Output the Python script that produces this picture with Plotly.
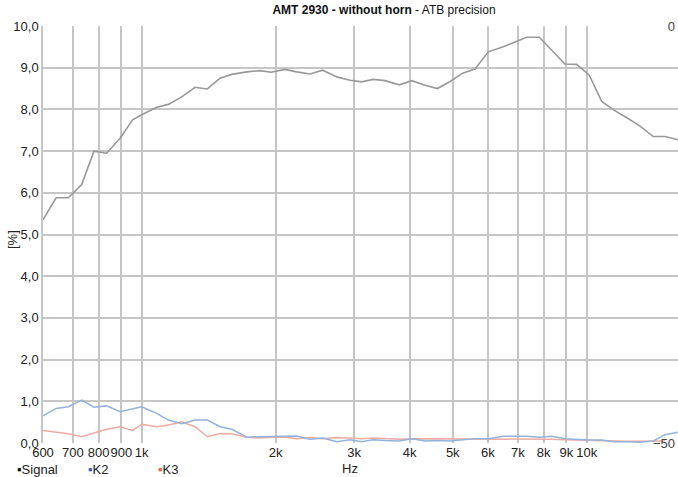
import plotly.graph_objects as go
import math

freq_hz = [600, 642, 684, 733, 781, 834, 894, 954, 1000, 1081, 1148, 1230, 1318, 1404, 1500,
           1594, 1722, 1844, 1952, 2099, 2230, 2389, 2551, 2743, 2939, 3120, 3312, 3521, 3792,
           4045, 4333, 4618, 4931, 5263, 5610, 6010, 6494, 7048, 7328, 7826, 8340, 8933, 9495,
           10135, 10810, 11485, 12310, 13180, 14110, 15000, 16070]

signal_db = [-23.25, -20.6, -20.6, -19.0, -15.0, -15.25, -13.45, -11.25, -10.65, -9.75, -9.4,
             -8.5, -7.35, -7.55, -6.25, -5.8, -5.5, -5.35, -5.55, -5.2, -5.5, -5.75, -5.3, -6.1,
             -6.5, -6.7, -6.4, -6.55, -7.05, -6.55, -7.1, -7.5, -6.65, -5.65, -5.15, -3.1, -2.5,
             -1.75, -1.35, -1.35, -2.95, -4.55, -4.6, -5.9, -9.05, -10.05, -11.0, -12.0, -13.25,
             -13.25, -13.65]

k2_pct = [0.65, 0.83, 0.87, 1.03, 0.86, 0.89, 0.75, 0.81, 0.87, 0.71, 0.55, 0.46, 0.55, 0.55,
          0.39, 0.33, 0.14, 0.15, 0.16, 0.17, 0.17, 0.09, 0.12, 0.03, 0.08, 0.03, 0.08, 0.06,
          0.05, 0.10, 0.05, 0.06, 0.05, 0.08, 0.10, 0.10, 0.16, 0.16, 0.16, 0.14, 0.16, 0.10,
          0.08, 0.07, 0.07, 0.03, 0.03, 0.02, 0.05, 0.20, 0.26]

k3_pct = [0.30, 0.25, 0.22, 0.15, 0.23, 0.33, 0.39, 0.30, 0.45, 0.39, 0.43, 0.51, 0.39, 0.15,
          0.23, 0.22, 0.14, 0.12, 0.14, 0.14, 0.10, 0.13, 0.10, 0.13, 0.12, 0.10, 0.12, 0.10,
          0.09, 0.10, 0.10, 0.09, 0.10, 0.10, 0.10, 0.10, 0.09, 0.09, 0.09, 0.09, 0.09, 0.08,
          0.07, 0.06, 0.05, 0.05, 0.04, 0.04, 0.05, 0.05]

x_tickvals = [600, 700, 800, 900, 1000, 2000, 3000, 4000, 5000, 6000, 7000, 8000, 9000, 10000]
x_ticktext = ["600", "700", "800", "900", "1k", "2k", "3k", "4k", "5k", "6k", "7k", "8k", "9k", "10k"]
y_tickvals = [0, 1, 2, 3, 4, 5, 6, 7, 8, 9, 10]
y2_tickvals = [0, -50]

series_names = ["Signal", "K2", "K3"]
legend_colors = ["#111111", "#3565ad", "#e8603c"]

W, H = 678, 477
ML, MR, MT, MB = 43, 0, 26, 34
PW, PH = W - ML - MR, H - MT - MB

def px_x(p):
    return (p - ML) / PW

def px_y(p):
    return (H - MB - p) / PH

FONT = "Liberation Sans, Arial, sans-serif"

fig = go.Figure()
fig.add_trace(go.Scatter(x=freq_hz, y=k3_pct, mode="lines", name="K3",
                         line=dict(color="#eeaba2", width=1.5), showlegend=False))
fig.add_trace(go.Scatter(x=freq_hz, y=k2_pct, mode="lines", name="K2",
                         line=dict(color="#93b3da", width=1.5), showlegend=False))
fig.add_trace(go.Scatter(x=freq_hz, y=signal_db, mode="lines", name="Signal", yaxis="y2",
                         line=dict(color="#999999", width=1.6), showlegend=False))

grid = "#c6c6c6"
fig.update_layout(
    width=W, height=H,
    margin=dict(l=ML, r=MR, t=MT, b=MB, pad=0),
    paper_bgcolor="white", plot_bgcolor="white",
    separators=", ",
    font=dict(family=FONT, size=13, color="#222222"),
    title=dict(text="<b>AMT 2930 - without horn</b> - ATB precision",
               font=dict(family=FONT, size=12, color="#111111"),
               xref="paper", x=px_x(384), xanchor="center",
               yref="container", y=1 - 9.5 / H, yanchor="middle"),
    xaxis=dict(type="log", range=[math.log10(600), 4.2052], domain=[0, 1],
               tickvals=x_tickvals, ticktext=x_ticktext, ticks="", tickangle=0,
               showgrid=True, gridcolor=grid, gridwidth=1.5,
               showline=False, zeroline=False, tickfont=dict(size=13)),
    yaxis=dict(range=[0, 10], tickvals=y_tickvals, tickformat=".1f", ticks="",
               showgrid=True, gridcolor=grid, gridwidth=1.5, zeroline=False,
               showline=True, linecolor=grid, linewidth=1.5,
               tickfont=dict(size=13)),
    yaxis2=dict(range=[-50, 0], overlaying="y", side="right", anchor="x",
                tickvals=y2_tickvals, ticks="", showgrid=False, zeroline=False,
                showline=False, ticklabelposition="inside", ticklabeloverflow="allow",
                tickfont=dict(size=13)),
    showlegend=False,
)

annotations = [
    dict(text="[%]", x=px_x(13), y=px_y(240), xref="paper", yref="paper", textangle=-90,
         showarrow=False, xanchor="center", yanchor="middle", font=dict(size=13)),
    dict(text="Hz", x=px_x(350), y=px_y(468), xref="paper", yref="paper",
         showarrow=False, xanchor="center", yanchor="middle", font=dict(size=13)),
]
legend_x = [15, 86, 156]
for name, col, lx in zip(series_names, legend_colors, legend_x):
    annotations.append(dict(
        text=f'<span style="color:{col}">▪</span>{name}',
        x=px_x(lx), y=px_y(469), xref="paper", yref="paper", showarrow=False,
        xanchor="left", yanchor="middle", font=dict(size=13, color="#222222")))
fig.update_layout(annotations=annotations)

fig.write_html("out.html", config={"displayModeBar": False},
               post_script="document.body.style.margin='0';document.body.style.overflow='hidden';")
